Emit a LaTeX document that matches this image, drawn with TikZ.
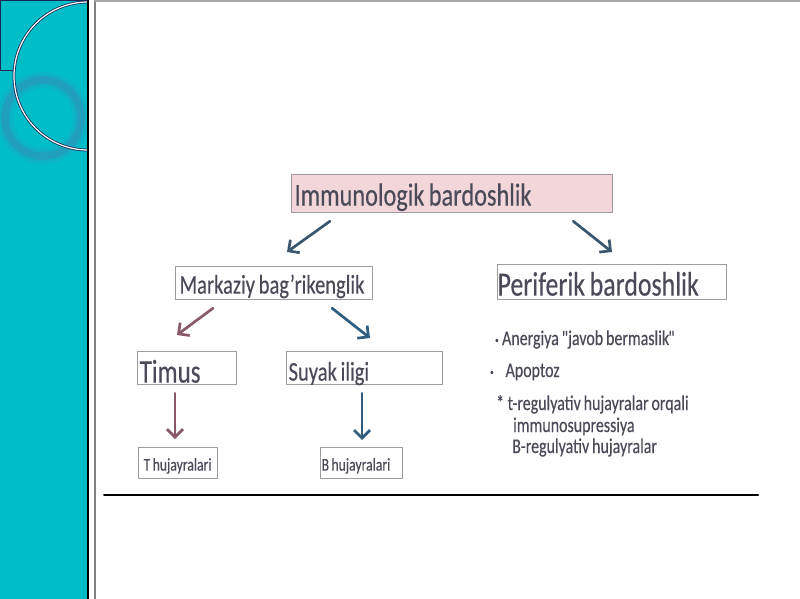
\documentclass[tikz,border=0pt]{standalone}
\usepackage{fontspec}
\setmainfont{Carlito}[FakeStretch=0.76, WordSpace=0.8, FakeBold=0.25]
\usetikzlibrary{arrows.meta,positioning}
\definecolor{stripc}{HTML}{00BEC8}
\definecolor{ringc}{HTML}{3A8AB4}
\definecolor{navyc}{HTML}{1C2758}
\definecolor{txtc}{HTML}{4A4A58}
\definecolor{boxc}{HTML}{9C9CA0}
\definecolor{pinkc}{HTML}{F2D6D9}
\definecolor{arrnavy}{HTML}{3B566F}
\definecolor{arrmauve}{HTML}{87596A}
\definecolor{arrblue}{HTML}{2E5D80}
\begin{document}
\begin{tikzpicture}[line join=round, line cap=round, x=1pt, y=-1pt]
			\tikzset{box/.style={draw=boxc, line width=1.2pt, anchor=north west, inner ysep=0pt, align=flush left, text=txtc},
				arr/.style={line width=2.7pt, -{Straight Barb[length=8pt,width=16pt]}},
				item/.style={anchor=base west, inner sep=0pt, text=txtc, font=\fontsize{21}{23}\selectfont}}
			\useasboundingbox (0,0) rectangle (800,599);
			% left strip
			\fill[stripc] (0,0) rectangle (88,599);
			\begin{scope}
				\clip (0,0) rectangle (88,599);
				\draw[ringc, line width=16pt, opacity=.2] (43,118) circle [radius=38pt];
				\draw[ringc, line width=8pt, opacity=.45] (43,118) circle [radius=38pt];
				\draw[navyc, line width=1pt] (0,0.5)--(88,0.5) (0,0)--(0,71)--(15,71);
				\draw[navyc, line width=1pt] (72,0) arc [start angle=0, end angle=78, radius=72pt];
				\draw[navyc, double=white, double distance=1.2pt, line width=0.8pt] (88,76) circle [radius=74pt];
			\end{scope}
			\draw[black, line width=1.5pt] (88,0)--(88,599);
			\draw[gray, line width=2pt] (95,0)--(95,599);
			\draw[gray!70, line width=1.5pt] (95,1)--(800,1);
			% boxes
			\node[box, fill=pinkc, inner xsep=3pt, text width=315pt, text height=31pt, text depth=7pt, font=\fontsize{32}{34}\selectfont] (imm) at (291,174) {Immunologik bardoshlik};
			\node[box, inner xsep=4pt, text width=189pt, text height=27pt, text depth=6pt, font=\fontsize{27}{29}\selectfont] (mark) at (175,266) {\mbox{Markaziy bag'rikenglik}};
			\node[box, inner xsep=0pt, text width=229pt, text height=31pt, text depth=4pt, font=\fontsize{34}{36}\selectfont] (peri) at (497,264) {Periferik bardoshlik};
			\node[box, inner xsep=2pt, text width=95pt, text height=31pt, text depth=2pt, font=\fontsize{33}{35}\selectfont] (tim) at (137,351) {Timus};
			\node[box, inner xsep=2pt, text width=152pt, text height=29pt, text depth=4pt, font=\fontsize{27}{29}\selectfont] (suy) at (286,351) {Suyak iligi};
			\node[box, inner xsep=5pt, text width=69pt, text height=23pt, text depth=8pt, font=\fontsize{18}{20}\selectfont] (tcell) at (138,447) {\mbox{T hujayralari}};
			\node[box, inner xsep=1pt, text width=80pt, text height=23pt, text depth=8pt, font=\fontsize{18}{20}\selectfont] (bcell) at (320,447) {\mbox{B hujayralari}};
			% arrows
			\draw[arr, arrnavy] ([shift={(39,8)}]imm.south west) -- ([shift={(112,-14)}]mark.north west);
			\draw[arr, arrnavy] ([shift={(-40,8)}]imm.south east) -- ([shift={(115,-12)}]peri.north west);
			\draw[arr, arrmauve] ([shift={(38,8)}]mark.south west) -- ([shift={(40,-16)}]tim.north west);
			\draw[arr, arrblue] ([shift={(157,8)}]mark.south west) -- ([shift={(84,-13)}]suy.north west);
			\draw[arr, arrmauve] ([shift={(38,8)}]tim.south west) -- ([shift={(37,-8)}]tcell.north west);
			\draw[arr, arrblue] ([shift={(76,8)}]suy.south west) -- ([shift={(42,-7)}]bcell.north west);
			% list
			\foreach \i/\xx/\yy/\txt in {1/495/345/{\raisebox{2pt}{\fontsize{9}{9}\selectfont\textbullet}\,Anergiya \textquotedbl\kern-2pt javob bermaslik\kern-1pt\textquotedbl},
				2/490/377/{\raisebox{2pt}{\fontsize{9}{9}\selectfont\textbullet}\hspace{12pt}Apoptoz},
				3/496/410/{*\,t-regulyativ hujayralar orqali},
				4/513/432/{immunosupressiya},
				5/512/453/{B-regulyativ hujayralar}}
			\node[item] (pt\i) at (\xx,\yy) {\txt};
			\draw[black, line width=2pt] (104,495)--(758,495);
		\end{tikzpicture}
\end{document}
